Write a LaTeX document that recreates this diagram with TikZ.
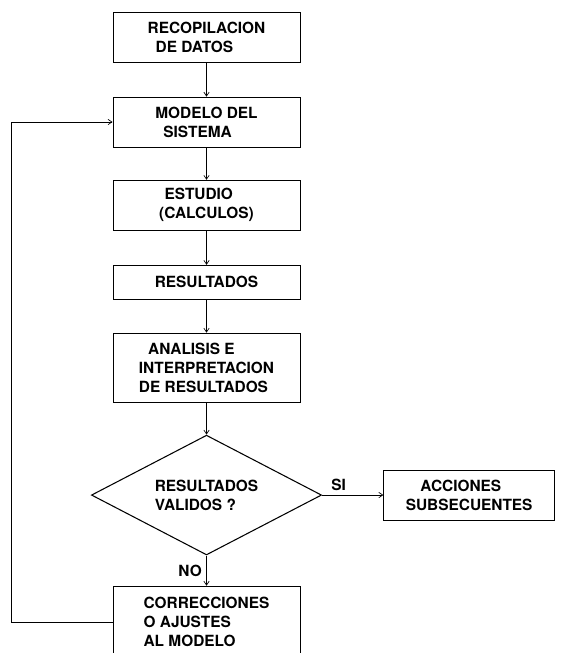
\documentclass[tikz,border=0pt]{standalone}
\usepackage{fontspec}
\setmainfont{TeX Gyre Heros}
\usetikzlibrary{shapes.geometric, arrows.meta, positioning}

\begin{document}
\begin{tikzpicture}[
  node distance=2.25cm,
  font=\bfseries\fontsize{11.6}{14.3}\selectfont,
  procbox/.style={rectangle, draw, line width=0.6pt, minimum width=4.95cm, minimum height=1.32cm, align=left, inner sep=2pt},
  decision/.style={diamond, draw, line width=0.8pt, aspect=1.9, minimum width=6.09cm, minimum height=3.17cm, inner sep=0pt, align=left},
  flowarrow/.style={-{Straight Barb[length=3pt, width=4pt]}, line width=0.5pt}
]
\useasboundingbox (-5.464,0.979) rectangle (9.433,-16.299);

% Main chain
\node[procbox] (rec) {RECOPILACION\\\hspace*{6pt}DE DATOS};
\node[procbox, below of=rec] (mod) {MODELO DEL\\\hspace*{6pt}SISTEMA};
\node[procbox, below of=mod, node distance=2.2cm] (est) {\hspace*{4pt}ESTUDIO\\(CALCULOS)};
\node[procbox, below of=est, node distance=2.04cm, minimum height=0.9cm] (res) {RESULTADOS};
\node[procbox, below of=res, node distance=2.26cm, minimum height=1.83cm] (ana) {\hspace*{7pt}ANALISIS E\\INTERPRETACION\\DE RESULTADOS};

\draw[flowarrow] (rec) -- (mod);
\draw[flowarrow] (mod) -- (est);
\draw[flowarrow] (est) -- (res);
\draw[flowarrow] (res) -- (ana);

% Decision
\node[decision, below of=ana, node distance=3.37cm] (val) {RESULTADOS\\VALIDOS ?};
\node[procbox, right of=val, node distance=6.95cm, minimum width=4.52cm] (acc) {\hspace*{11pt}ACCIONES\\SUBSECUENTES};
\node[procbox, below of=val, node distance=3.36cm, minimum height=1.9cm] (corr) {CORRECCIONES\\O AJUSTES\\AL MODELO};

\draw[flowarrow] (ana) -- (val);
\draw[flowarrow] (val) -- (acc) node[pos=0.27, above] {SI};
\draw[flowarrow] (val) -- (corr) node[midway, left] {NO};

% Feedback
\draw[flowarrow] (corr.west) -- ++(-2.67,0) |- (mod.west);

\end{tikzpicture}
\end{document}
